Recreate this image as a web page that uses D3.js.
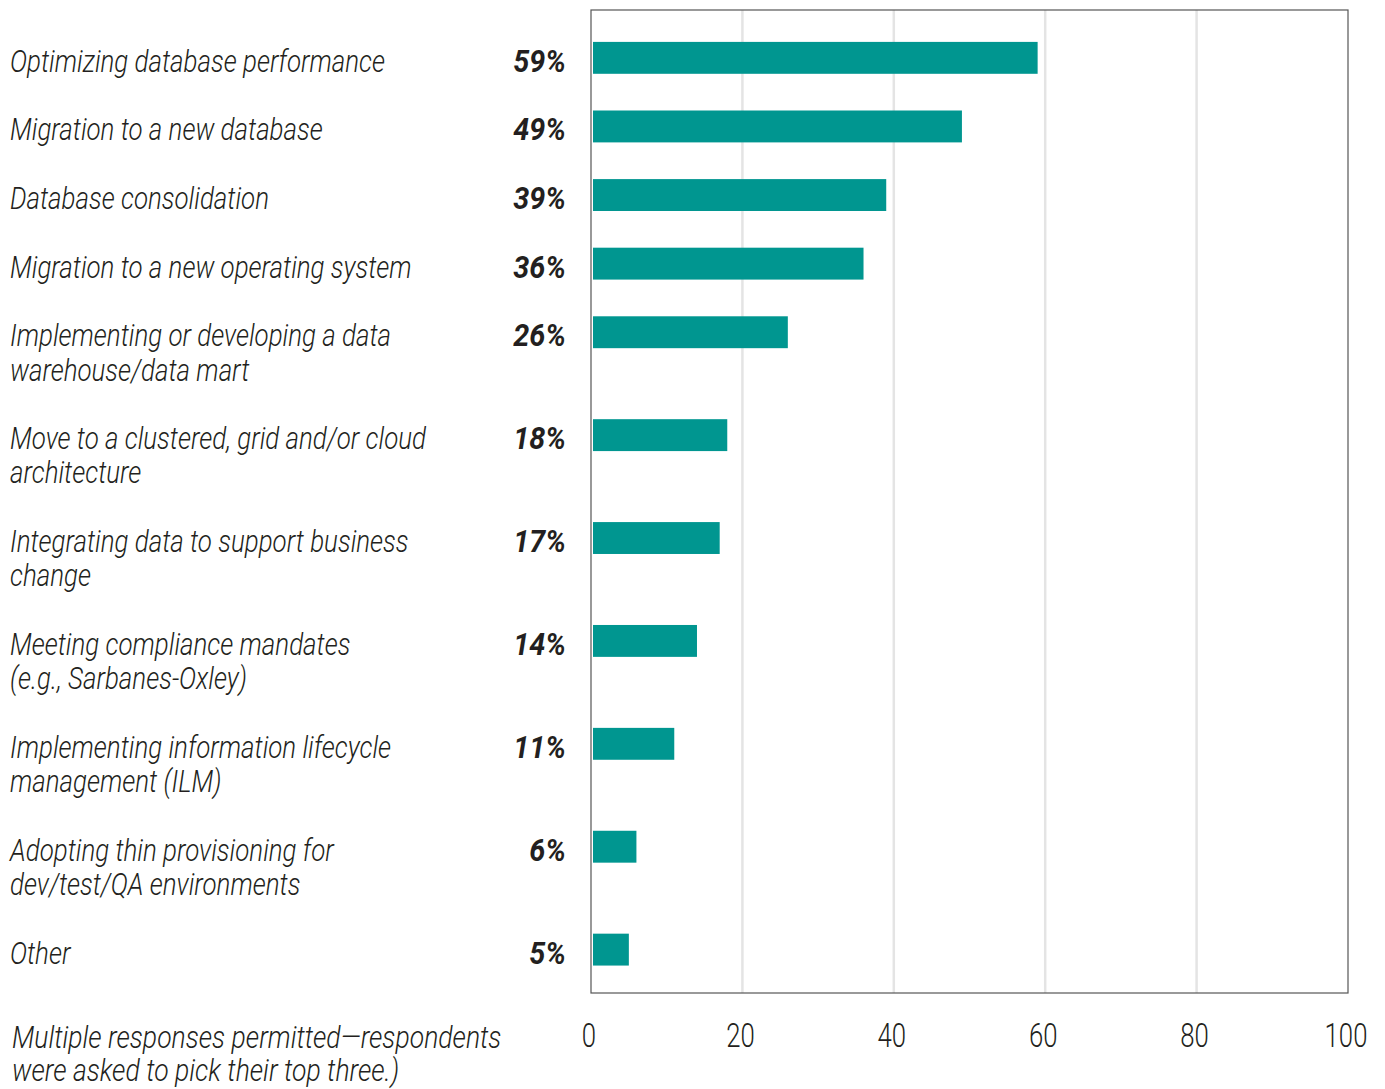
<!DOCTYPE html>
<html>
<head>
<meta charset="utf-8">
<script src="https://cdn.jsdelivr.net/npm/d3@7"></script>
<style>
  body { margin: 0; background: #fff; }
  text { font-family: Roboto, "Noto Sans", sans-serif; fill: #231f20; }
</style>
</head>
<body>
<div id="chart"></div>
<script>
// categories, split into display lines
const categories = [
  ["Optimizing database performance"],
  ["Migration to a new database"],
  ["Database consolidation"],
  ["Migration to a new operating system"],
  ["Implementing or developing a data", "warehouse/data mart"],
  ["Move to a clustered, grid and/or cloud", "architecture"],
  ["Integrating data to support business", "change"],
  ["Meeting compliance mandates", "(e.g., Sarbanes-Oxley)"],
  ["Implementing information lifecycle", "management (ILM)"],
  ["Adopting thin provisioning for", "dev/test/QA environments"],
  ["Other"]
];
const values = [59, 49, 39, 36, 26, 18, 17, 14, 11, 6, 5];
const xTicks = [0, 20, 40, 60, 80, 100];
const footnote = ["Multiple responses permitted\u2014respondents", "were asked to pick their top three.)"];

const width = 1385, height = 1089;
const plot = { left: 591, right: 1348, top: 10, bottom: 993 };
const lineH = 34.3;
// the original type is a condensed face, so squeeze Roboto sideways
const squeeze = 0.81;
const squeezeBold = 0.9;

// each row takes (lines + 1) units, so two-line labels get extra room
const rowStart = [];
let acc = 0;
categories.forEach(c => { rowStart.push(acc); acc += c.length + 1; });

const svg = d3.select("#chart").append("svg")
  .attr("width", width).attr("height", height);

const x = d3.scaleLinear().domain([0, 100]).range([plot.left, plot.right]);
const y = d3.scaleLinear()
  .domain([-0.93, rowStart[rowStart.length - 1] + 1.73])
  .range([plot.top, plot.bottom]);

function condensed(px, py, k) {
  return "translate(" + px + "," + py + ") scale(" + (k || squeeze) + ",1)";
}

// grid lines
svg.append("g")
  .selectAll("line")
  .data(xTicks.filter(t => t > 0 && t < 100)).enter()
  .append("line")
  .attr("x1", d => x(d)).attr("x2", d => x(d))
  .attr("y1", plot.top).attr("y2", plot.bottom)
  .attr("stroke", "#e4e4e4").attr("stroke-width", 2.5);

// frame
svg.append("rect")
  .attr("x", plot.left).attr("y", plot.top)
  .attr("width", plot.right - plot.left).attr("height", plot.bottom - plot.top)
  .attr("fill", "none").attr("stroke", "#555").attr("stroke-width", 1.2);

// bars
svg.append("g")
  .selectAll("rect")
  .data(values).enter()
  .append("rect")
  .attr("x", x(0) + 2)
  .attr("y", (d, i) => y(rowStart[i]))
  .attr("width", d => x(d) - x(0) - 2)
  .attr("height", y(0.93) - y(0))
  .attr("fill", "#009690");

// category labels
const lab = svg.append("g")
  .selectAll("text")
  .data(categories).enter()
  .append("text")
  .attr("transform", (d, i) => condensed(10, y(rowStart[i]) + 30))
  .style("font-size", "32px")
  .style("font-weight", 300)
  .style("font-style", "italic");
lab.selectAll("tspan")
  .data(d => d).enter()
  .append("tspan")
  .attr("x", 0)
  .attr("dy", (d, j) => j === 0 ? 0 : lineH)
  .text(d => d);

// value labels
svg.append("g")
  .selectAll("text")
  .data(values).enter()
  .append("text")
  .attr("transform", (d, i) => condensed(566, y(rowStart[i]) + 30, squeezeBold))
  .attr("text-anchor", "end")
  .style("font-size", "32px")
  .style("font-style", "italic")
  .style("font-weight", "bold")
  .text(d => d + "%");

// x axis tick labels
svg.append("g")
  .selectAll("text")
  .data(xTicks).enter()
  .append("text")
  .attr("transform", d => condensed(x(d) - 2, 1047, 0.78))
  .attr("text-anchor", "middle")
  .style("font-size", "33px")
  .style("font-weight", 300)
  .text(d => d);

// footnote
svg.append("text")
  .attr("transform", condensed(12, 1048, 0.83))
  .style("font-size", "32px")
  .style("font-weight", 300)
  .style("font-style", "italic")
  .selectAll("tspan")
  .data(footnote).enter()
  .append("tspan")
  .attr("x", 0)
  .attr("dy", (d, j) => j === 0 ? 0 : 33.5)
  .text(d => d);
</script>
</body>
</html>
